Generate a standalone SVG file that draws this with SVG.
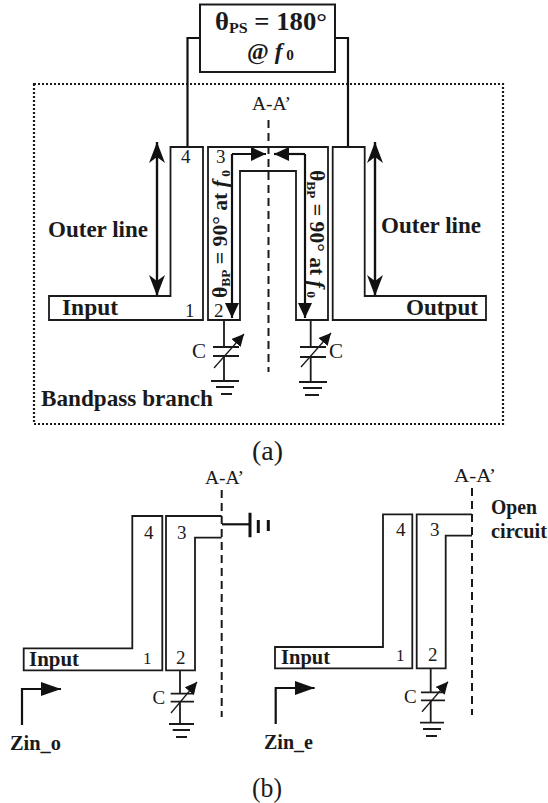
<svg xmlns="http://www.w3.org/2000/svg" width="548" height="803" viewBox="0 0 548 803">
<defs>
<style>
text{font-family:"Liberation Serif","Times New Roman",serif;fill:#1a1a1a}
.b{font-weight:700}
.l{font-size:24px;font-weight:700}
.i{font-size:20px;font-weight:700}
.n{font-size:19px}
.c{font-size:21px}
.cap{font-size:28px}
.aa{font-size:18px}
.ln{fill:none;stroke:#1a1a1a;stroke-width:1.8}
.sh{fill:#fff;stroke:#1a1a1a;stroke-width:2}
.w{fill:none;stroke:#111;stroke-width:2.2}
.d{fill:none;stroke:#1a1a1a;stroke-width:2;stroke-dasharray:8 5}
.g{fill:none;stroke:#1a1a1a;stroke-width:1.8}
.t{fill:none;stroke:#1a1a1a;stroke-width:1.3}
.dot{fill:none;stroke:#1a1a1a;stroke-width:2.2;stroke-dasharray:2 2}
.th{fill:none;stroke:#111;stroke-width:3}
</style>
<marker id="open" viewBox="0 0 22 16" refX="21" refY="8" markerWidth="22" markerHeight="16" markerUnits="userSpaceOnUse" orient="auto"><path d="M0 0 L21 8 L0 16 L6 8 Z" fill="#111"/></marker>
<marker id="solid" viewBox="0 0 16 14" refX="15" refY="7" markerWidth="16" markerHeight="14" markerUnits="userSpaceOnUse" orient="auto"><path d="M0 0 L15 7 L0 14 Z" fill="#111"/></marker>
<marker id="big" viewBox="0 0 20 14" refX="20" refY="7" markerWidth="20" markerHeight="14" markerUnits="userSpaceOnUse" orient="auto"><path d="M0 0 L20 7 L0 14 Z" fill="#111"/></marker>
<marker id="tune" viewBox="0 0 13 12" refX="12" refY="6" markerWidth="13" markerHeight="12" markerUnits="userSpaceOnUse" orient="auto"><path d="M0 0 L12 6 L0 12 Z" fill="#111"/></marker>
</defs>
<rect width="548" height="803" fill="#fff"/>

<g id="connectors">
<rect class="dot" x="34" y="84" width="469" height="340"/>
<path class="w" d="M200 38H187.500V147"/>
<path class="w" d="M335 38H348V147"/>
<path class="d" d="M268.500 120V372"/>
<path class="w" d="M157 296V142" marker-end="url(#open)"/>
<path class="w" d="M157 142V296" marker-end="url(#open)"/>
<path class="w" d="M375 296V142" marker-end="url(#open)"/>
<path class="w" d="M375 142V296" marker-end="url(#open)"/>
<path class="w" d="M232 154H266" marker-end="url(#solid)"/>
<path class="w" d="M232 154V318" marker-end="url(#solid)"/>
<path class="w" d="M305 154H274" marker-end="url(#solid)"/>
<path class="w" d="M305 154V318" marker-end="url(#solid)"/>
<path class="d" d="M221.700 490V717"/>
<path class="d" d="M472 488V715"/>
<path class="w" d="M22 725V689H61" marker-end="url(#big)"/>
<path class="w" d="M275.700 724V688H314.700" marker-end="url(#big)"/>
</g>

<g id="phase-shifter">
<rect class="sh" x="200" y="4.500" width="135" height="67.500"/>
<text class="b" x="215" y="30" font-size="25" textLength="112" lengthAdjust="spacingAndGlyphs">θ<tspan font-size="15" dy="3">PS</tspan><tspan dy="-3"> = 180°</tspan></text>
<text class="b" x="247" y="59" font-size="23" textLength="47" lengthAdjust="spacingAndGlyphs">@ <tspan font-style="italic">f</tspan><tspan font-size="15" dy="1"> 0</tspan></text>
</g>

<g id="bandpass-frame">
<text x="252" y="110" class="aa" textLength="39" lengthAdjust="spacingAndGlyphs">A-A’</text>
<text class="l" x="48" y="237" textLength="100" lengthAdjust="spacingAndGlyphs">Outer line</text>
<text class="l" x="381" y="233" textLength="100" lengthAdjust="spacingAndGlyphs">Outer line</text>
<text class="l" x="41" y="406" textLength="172" lengthAdjust="spacingAndGlyphs">Bandpass branch</text>
<text class="cap" x="252" y="460" textLength="31" lengthAdjust="spacingAndGlyphs">(a)</text>
</g>

<g id="outer-left">
<path class="ln" d="M170.500 147H203V320H49V296H170.500Z"/>
<text class="n" x="181" y="163">4</text>
<text class="n" x="185" y="317">1</text>
<text class="l" x="62" y="315" textLength="56" lengthAdjust="spacingAndGlyphs">Input</text>
</g>

<g id="outer-right">
<path class="ln" d="M332.700 147H364.700V296H486V320H332.700Z"/>
<text class="l" x="406" y="315" textLength="72" lengthAdjust="spacingAndGlyphs">Output</text>
</g>

<g id="bandpass-line">
<path class="ln" d="M208 320V147H328V320H296V171H240V320Z"/>
<text class="n" x="216" y="163">3</text>
<text class="n" x="214" y="317">2</text>
<text class="b" font-size="21" transform="translate(227 298) rotate(-90)" textLength="128" lengthAdjust="spacingAndGlyphs">θ<tspan font-size="13" dy="3">BP</tspan><tspan dy="-3"> = 90° at </tspan><tspan font-style="italic">f</tspan><tspan font-size="13" dy="3"> 0</tspan></text>
<text class="b" font-size="21" transform="translate(310 170) rotate(90)" textLength="128" lengthAdjust="spacingAndGlyphs">θ<tspan font-size="13" dy="3">BP</tspan><tspan dy="-3"> = 90° at </tspan><tspan font-style="italic">f</tspan><tspan font-size="13" dy="3"> 0</tspan></text>
</g>

<g id="varactor-left">
<path class="g" d="M224 320V347M224 356V381M213 347H239M213 356H239M211 381H239M216 387H234M221 394H232"/>
<path class="t" d="M214 368L244 334" marker-end="url(#tune)"/>
<text class="c" x="192" y="358">C</text>
</g>

<g id="varactor-right">
<path class="g" d="M310.700 320V347M310.700 357V382M300 347H326M300 357H326M299 382H327M303 388H322M305 395H319"/>
<path class="t" d="M301 367L331 333" marker-end="url(#tune)"/>
<text class="c" x="329" y="358">C</text>
</g>

<g id="odd-mode">
<text class="aa" x="205" y="484" textLength="39" lengthAdjust="spacingAndGlyphs">A-A’</text>
<path class="ln" d="M23.700 648.300H132.300V516H162.300V670.300H23.700Z"/>
<path class="ln" d="M221.700 516H166V670.300H195V537.700H221.700"/>
<text class="n" x="144" y="539">4</text>
<text class="n" x="177" y="539">3</text>
<text class="n" x="143" y="664" style="font-size:17px">1</text>
<text class="n" x="176" y="664">2</text>
<text class="i" x="29" y="666" textLength="50" lengthAdjust="spacingAndGlyphs">Input</text>
<path class="w" d="M222 524.300H250"/>
<path class="th" d="M250 512.700V537.300M258.300 520V533M268.300 520V531"/>
<path class="g" d="M180 670.300V693.700M180 701.700V724M170.700 693.700H194M170.700 701.700H194M169 724H194M172.700 730H190M176 737H187"/>
<path class="t" d="M171 713L197 682" marker-end="url(#tune)"/>
<text class="n" x="152.500" y="704">C</text>
<text class="i" x="10" y="750" textLength="51" lengthAdjust="spacingAndGlyphs">Zin_o</text>
</g>

<g id="even-mode">
<text class="aa" x="454" y="482" textLength="42" lengthAdjust="spacingAndGlyphs">A-A’</text>
<path class="ln" d="M275 647H383V514.300H412.300V668.300H275Z"/>
<path class="ln" d="M472 514.300H416.700V668.300H445.700V535.700H472"/>
<text class="n" x="396" y="536">4</text>
<text class="n" x="430" y="536">3</text>
<text class="n" x="396" y="661" style="font-size:17px">1</text>
<text class="n" x="428" y="661">2</text>
<text class="i" x="281" y="664" textLength="49" lengthAdjust="spacingAndGlyphs">Input</text>
<text class="b" x="491" y="514" font-size="21" textLength="46" lengthAdjust="spacingAndGlyphs">Open</text>
<text class="b" x="491" y="537.700" font-size="21" textLength="56" lengthAdjust="spacingAndGlyphs">circuit</text>
<path class="g" d="M430.700 668.300V692.300M430.700 700.300V722.700M421 692.300H445M421 700.300H445M420 722.700H444M423 729H441M426 736H437"/>
<path class="t" d="M422 711.700L448 681.700" marker-end="url(#tune)"/>
<text class="n" x="404" y="703">C</text>
<text class="i" x="264" y="749" textLength="49" lengthAdjust="spacingAndGlyphs">Zin_e</text>
</g>

<text id="caption-b" class="cap" x="252" y="797" textLength="30" lengthAdjust="spacingAndGlyphs">(b)</text>
</svg>
